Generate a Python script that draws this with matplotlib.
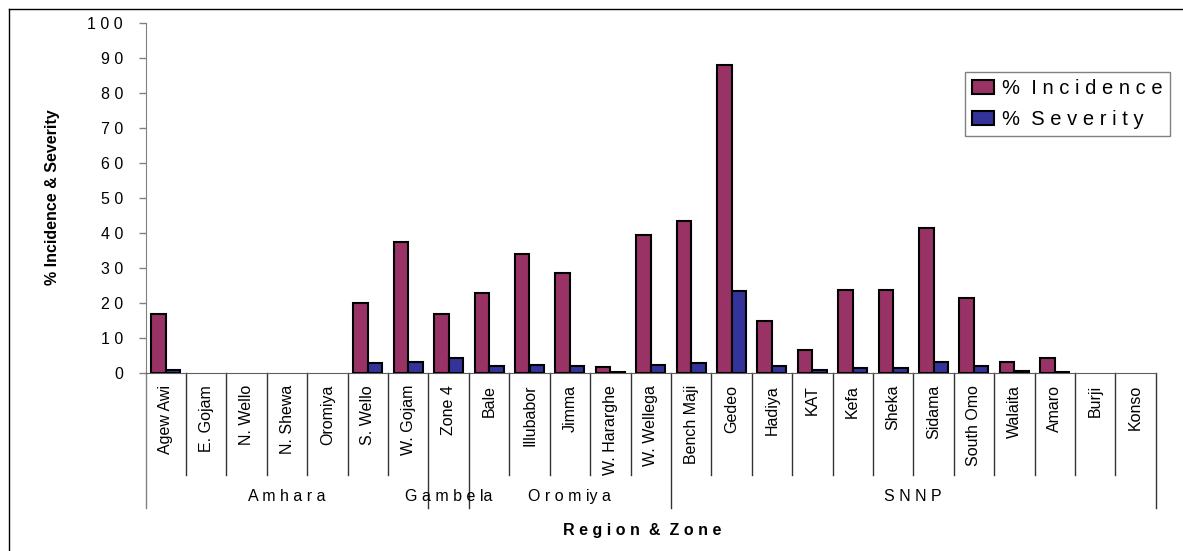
import numpy as np
import matplotlib
matplotlib.use("Agg")
import matplotlib.pyplot as plt
from matplotlib.lines import Line2D
from matplotlib.patches import Patch

# data
zones = ["Agew Awi", "E. Gojam", "N. Wello", "N. Shewa", "Oromiya", "S. Wello",
         "W. Gojam", "Zone 4", "Bale", "Illubabor", "Jimma", "W. Hararghe",
         "W. Wellega", "Bench Maji", "Gedeo", "Hadiya", "KAT", "Kefa", "Sheka",
         "Sidama", "South Omo", "Walaita", "Amaro", "Burji", "Konso"]
incidence = [16.7, 0, 0, 0, 0, 20.0, 37.5, 16.7, 22.8, 33.9, 28.6, 1.6, 39.4,
             43.5, 88.2, 14.9, 6.6, 23.8, 23.6, 41.3, 21.4, 3.1, 4.1, 0, 0]
severity = [0.8, 0, 0, 0, 0, 2.7, 3.1, 4.3, 1.9, 2.1, 2.0, 0.2, 2.3,
            2.8, 23.4, 2.0, 0.8, 1.3, 1.3, 3.0, 1.9, 0.5, 0.1, 0, 0]
regions = ["A m h a r a", "G a m b e la", "O r o m iy a", "S N N P"]
region_sizes = [7, 1, 5, 12]
yticks = list(range(0, 101, 10))

plt.rcParams["font.family"] = ["Liberation Sans", "DejaVu Sans"]
FS = 11.5
W, H = 1183, 551

fig = plt.figure(figsize=(W / 100, H / 100), dpi=100)
ax = fig.add_axes([145.7 / W, 1 - 372.7 / H, 1010 / W, 349.4 / H])

x = np.arange(len(zones))
bw = 0.36
inc_edges = ["black" if v > 0 else "none" for v in incidence]
sev_edges = ["black" if v > 0 else "none" for v in severity]
ax.bar(x - 0.18, incidence, bw, color="#993366", edgecolor=inc_edges,
       linewidth=1.5, zorder=3)
ax.bar(x + 0.18, severity, bw, color="#333399", edgecolor=sev_edges,
       linewidth=1.5, zorder=3)

ax.set_xlim(-0.5, len(zones) - 0.5)
ax.set_ylim(0, 100)
ax.set_yticks(yticks)
ax.set_yticklabels([" ".join(str(v)) for v in yticks], fontsize=FS)
ax.tick_params(axis="y", length=5.3, width=1, color="#808080", pad=11)
ax.set_xticks([])
for s in ["top", "right"]:
    ax.spines[s].set_visible(False)
ax.spines["left"].set_color("#808080")
ax.spines["bottom"].set_color("#606060")

# category separators and two-level labels below the axis
tr = ax.get_xaxis_transform()
bounds = np.cumsum([0] + region_sizes) - 0.5
for b in np.arange(len(zones) + 1) - 0.5:
    low = -0.386 if b in bounds else -0.293
    col = "#808080" if b == bounds[0] else "#333333"
    ax.plot([b, b], [0, low], transform=tr, color=col, lw=1, clip_on=False)

for i, name in enumerate(zones):
    ax.text(i, -0.035, name, transform=tr, rotation=90, ha="center", va="top",
            fontsize=FS)

for k, reg in enumerate(regions):
    mid = (bounds[k] + bounds[k + 1]) / 2
    ax.text(mid, -0.355, reg, transform=tr, ha="center", va="center",
            fontsize=FS)

fig.text(53 / W, 1 - 197.5 / H, "% Incidence & Severity", rotation=90,
         ha="center", va="center", fontsize=FS, fontweight="bold")
fig.text(642 / W, 1 - 530 / H, "R e g i o n  &  Z o n e", ha="center",
         va="center", fontsize=FS, fontweight="bold")

handles = [Patch(facecolor="#993366", edgecolor="black", linewidth=1.5),
           Patch(facecolor="#333399", edgecolor="black", linewidth=1.5)]
leg = fig.legend(handles, ["%  I n c i d e n c e", "%  S e v e r i t y"],
                 loc="upper left", bbox_to_anchor=(965 / W, 1 - 71.7 / H),
                 fontsize=14.5, frameon=True, fancybox=False, framealpha=1,
                 edgecolor="#808080", handlelength=1.1, handleheight=0.65,
                 handletextpad=0.4, borderpad=0.36, labelspacing=0.6,
                 borderaxespad=0)
leg.get_frame().set_linewidth(1)

# outer chart frame (cut by the right and bottom edges)
fig.add_artist(Line2D([9 / W, 1.01], [1 - 9 / H, 1 - 9 / H], color="black", lw=1))
fig.add_artist(Line2D([9 / W, 9 / W], [1 - 9 / H, -0.01], color="black", lw=1))

fig.savefig("out.png", dpi=100)
